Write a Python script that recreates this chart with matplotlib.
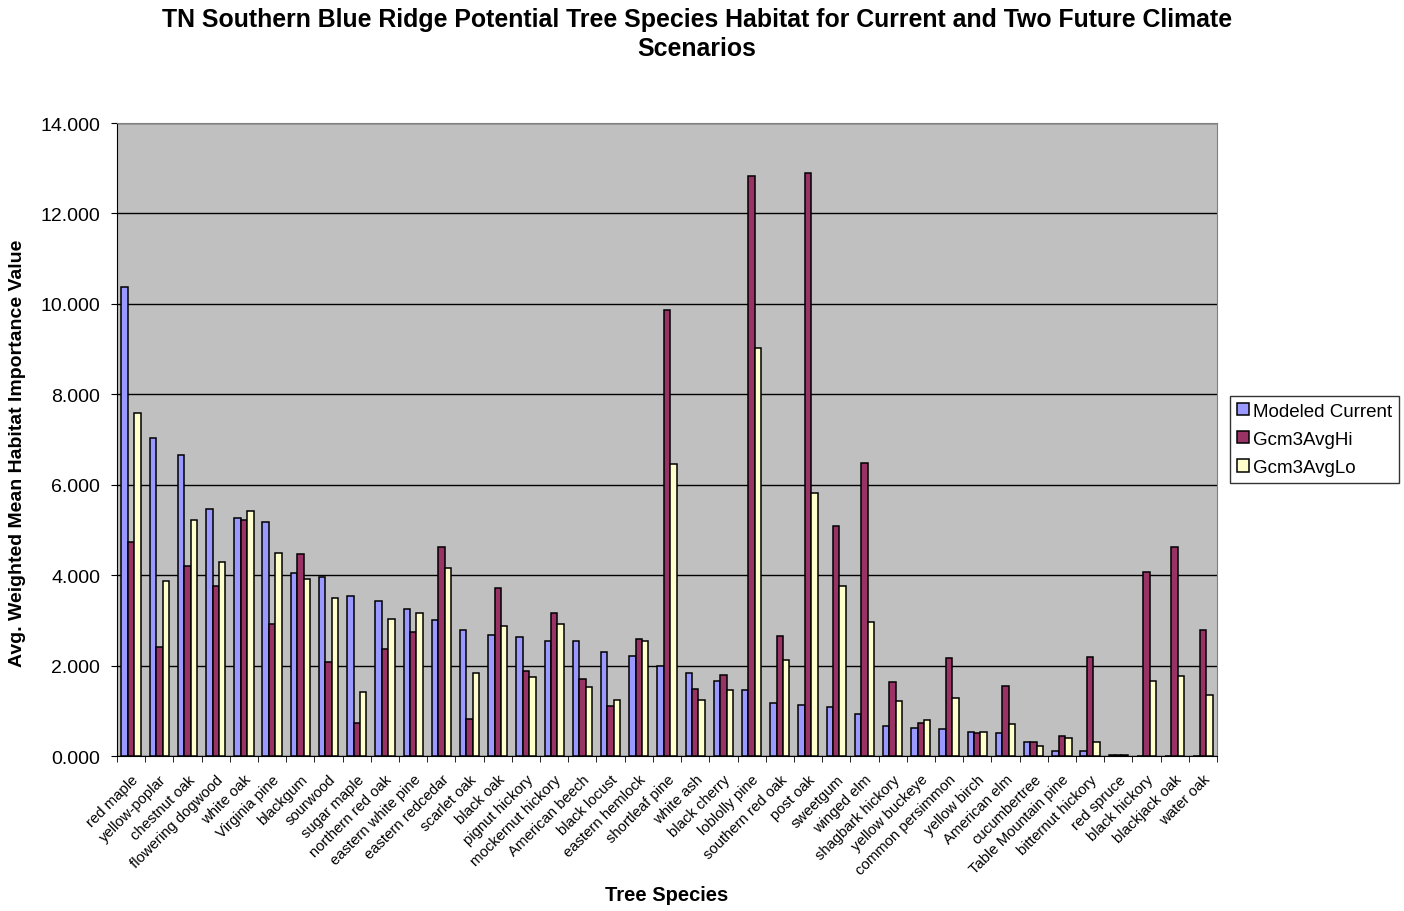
import matplotlib
matplotlib.use("Agg")
import matplotlib.pyplot as plt
import numpy as np
from matplotlib.ticker import FixedLocator, FormatStrFormatter
from matplotlib.transforms import ScaledTranslation

species = ["red maple", "yellow-poplar", "chestnut oak", "flowering dogwood", "white oak",
           "Virginia pine", "blackgum", "sourwood", "sugar maple", "northern red oak",
           "eastern white pine", "eastern redcedar", "scarlet oak", "black oak",
           "pignut hickory", "mockernut hickory", "American beech", "black locust",
           "eastern hemlock", "shortleaf pine", "white ash", "black cherry", "loblolly pine",
           "southern red oak", "post oak", "sweetgum", "winged elm", "shagbark hickory",
           "yellow buckeye", "common persimmon", "yellow birch", "American elm",
           "cucumbertree", "Table Mountain pine", "bitternut hickory", "red spruce",
           "black hickory", "blackjack oak", "water oak"]

modeled_current = [10.37, 7.04, 6.66, 5.46, 5.26, 5.17, 4.05, 3.96, 3.54, 3.42,
                   3.25, 3.00, 2.79, 2.67, 2.63, 2.54, 2.54, 2.29, 2.21, 1.99,
                   1.83, 1.66, 1.46, 1.17, 1.13, 1.09, 0.93, 0.66, 0.63, 0.59,
                   0.53, 0.50, 0.32, 0.11, 0.11, 0.03, 0.00, 0.00, 0.00]
gcm3_avg_hi = [4.74, 2.42, 4.21, 3.76, 5.21, 2.91, 4.46, 2.08, 0.72, 2.37,
               2.75, 4.62, 0.82, 3.71, 1.87, 3.16, 1.70, 1.11, 2.58, 9.87,
               1.49, 1.79, 12.82, 2.66, 12.90, 5.08, 6.49, 1.63, 0.72, 2.16,
               0.50, 1.54, 0.32, 0.44, 2.20, 0.03, 4.07, 4.62, 2.79]
gcm3_avg_lo = [7.59, 3.88, 5.21, 4.29, 5.41, 4.50, 3.91, 3.50, 1.42, 3.04,
               3.17, 4.16, 1.83, 2.87, 1.74, 2.92, 1.53, 1.24, 2.54, 6.45,
               1.24, 1.45, 9.03, 2.13, 5.82, 3.75, 2.96, 1.21, 0.79, 1.29,
               0.53, 0.70, 0.23, 0.40, 0.32, 0.03, 1.66, 1.77, 1.36]

series_names = ["Modeled Current", "Gcm3AvgHi", "Gcm3AvgLo"]
colors = ["#9999FF", "#993366", "#FFFFCC"]

plt.rcParams['font.family'] = ['Liberation Sans', 'DejaVu Sans']

fig = plt.figure(figsize=(14.04, 9.12), dpi=100)
ax = fig.add_axes([117/1404, 1 - 757/912, 1100/1404, 633/912])
ax.set_facecolor("#C0C0C0")

x = np.arange(len(species))
w = 0.228
for i, (vals, name, c) in enumerate(zip([modeled_current, gcm3_avg_hi, gcm3_avg_lo], series_names, colors)):
    ax.bar(x + (i - 1) * w, vals, width=w, color=c, edgecolor="black", linewidth=1.1,
           label=name, zorder=3)

ax.set_xlim(-0.5, len(species) - 0.5)
ax.set_ylim(0, 14)
ax.set_yticks(np.arange(0, 14.1, 2))
ax.yaxis.set_major_formatter(FormatStrFormatter("%.3f"))
ax.yaxis.grid(True, color="black", linewidth=1.0, zorder=1)
ax.set_axisbelow(True)

ax.set_xticks(x)
ax.set_xticklabels(species, rotation=45, ha="right", rotation_mode="anchor", fontsize=10.7)
offset = ScaledTranslation(-4 / 100, 0, fig.dpi_scale_trans)
for lbl in ax.get_xticklabels():
    lbl.set_transform(lbl.get_transform() + offset)
ax.xaxis.set_minor_locator(FixedLocator(np.arange(-0.5, len(species), 1)))
ax.tick_params(axis="x", which="major", length=0, pad=11.5)
ax.tick_params(axis="x", which="minor", length=4, direction="out", color="black")
ax.tick_params(axis="y", length=4, direction="out", labelsize=14, pad=8)

for s in ["top", "right"]:
    ax.spines[s].set_color("#808080")
for s in ["left", "bottom"]:
    ax.spines[s].set_color("black")

ax.set_xlabel("Tree Species", fontsize=14.5, fontweight="bold")
ax.xaxis.set_label_coords(0.5, -(896 - 757) / 633)
ax.xaxis.label.set_va("center")
ax.set_ylabel("Avg. Weighted Mean Habitat Importance Value", fontsize=14, fontweight="bold")
ax.yaxis.set_label_coords((18 - 117) / 1100, (757 - 453) / 633)
ax.yaxis.label.set_va("center")

fig.text(697 / 1404, 1 - 34.5 / 912,
         "TN Southern Blue Ridge Potential Tree Species Habitat for Current and Two Future Climate\nScenarios",
         ha="center", va="center", fontsize=17.9, fontweight="bold", linespacing=1.3)

leg = ax.legend(loc="upper left", bbox_to_anchor=(1230/1404, 1 - 397/912),
                bbox_transform=fig.transFigure, fontsize=13.5, frameon=True, fancybox=False,
                edgecolor="black", handlelength=0.65, handleheight=0.65, handletextpad=0.25,
                borderpad=0.35, labelspacing=0.6, borderaxespad=0)
leg.get_frame().set_linewidth(1.0)

fig.savefig("out.png", dpi=100, facecolor="white")
